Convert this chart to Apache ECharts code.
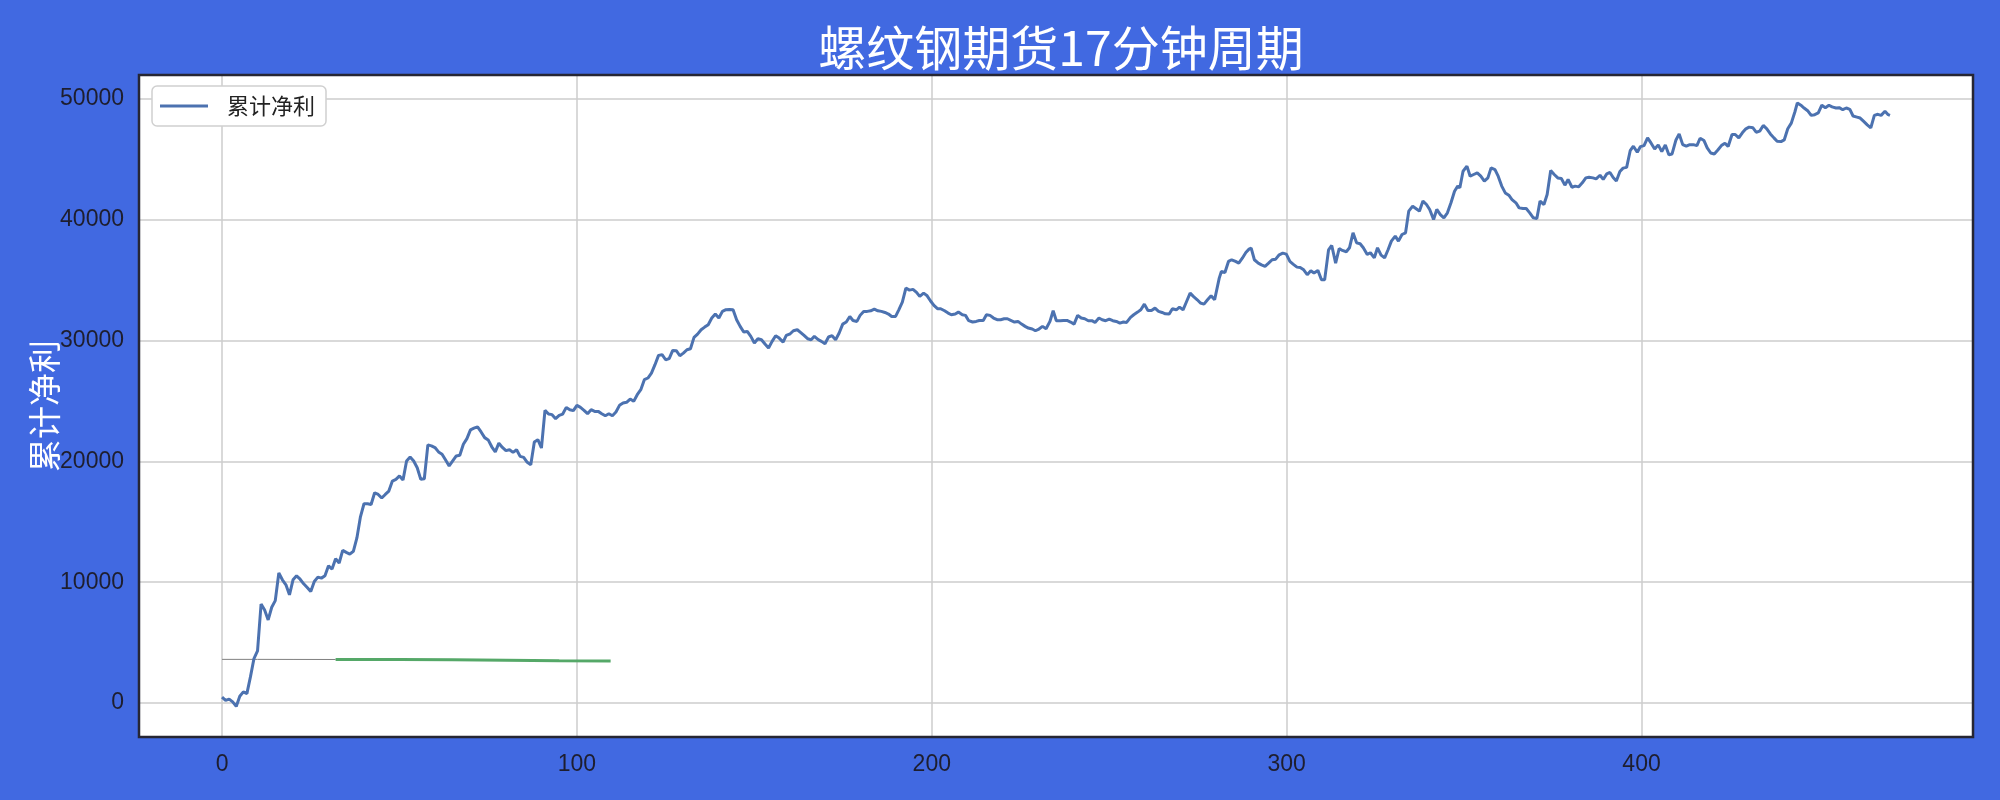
<!DOCTYPE html>
<html>
<head>
<meta charset="utf-8">
<script src="https://cdn.jsdelivr.net/npm/echarts@6/dist/echarts.min.js"></script>
<style>
html,body{margin:0;padding:0;background:#4169E1;}
#chart{width:2000px;height:800px;}
</style>
</head>
<body>
<div id="chart"></div>
<script>
const titleText = '螺纹钢期货17分钟周期';
const seriesName = '累计净利';
const yAxisName = '累计净利';

const netX = [
0,1,2,3,4,5,6,7,8,9,10,11,12,13,14,15,16,17,18,19,20,21,22,23,24,25,26,27,28,29,
30,31,32,33,34,35,36,37,38,39,40,41,42,43,44,45,46,47,48,49,50,51,52,53,54,55,56,57,58,59,
60,61,62,63,64,65,66,67,68,69,70,71,72,73,74,75,76,77,78,79,80,81,82,83,84,85,86,87,88,89,
90,91,92,93,94,95,96,97,98,99,100,101,102,103,104,105,106,107,108,109,110,111,112,113,114,115,116,117,118,119,
120,121,122,123,124,125,126,127,128,129,130,131,132,133,134,135,136,137,138,139,140,141,142,143,144,145,146,147,148,149,
150,151,152,153,154,155,156,157,
158.1,159.0,160.1,161.0,162.1,163.0,164.0,165.0,166.0,166.9,168.0,168.9,169.9,170.9,171.9,172.9,173.9,174.9,175.9,176.9,
177.8,178.9,179.8,180.8,181.8,182.8,183.8,184.8,185.8,186.8,187.8,188.7,189.8,190.7,191.7,192.7,193.7,194.7,195.7,196.6,
197.7,198.6,199.6,200.6,201.6,202.5,203.6,204.6,205.5,206.6,207.5,208.6,209.5,210.4,211.5,212.5,213.4,214.5,215.4,216.4,
217.4,218.4,219.4,220.4,221.3,222.4,223.3,224.3,225.3,226.3,227.2,228.3,229.2,230.2,231.2,232.2,
233.3,234.2,235.1,236.2,237.1,238.1,239.1,240.1,241.1,242.1,243.1,244.1,245.1,246.0,247.1,248.0,249.0,250.0,251.0,252.0,
253.0,254.0,254.9,256.0,256.9,258.0,258.9,259.9,260.9,261.9,262.9,263.9,264.9,265.8,266.9,267.8,268.9,269.8,270.8,271.8,
272.8,273.7,274.8,275.7,276.7,277.7,278.7,279.7,280.1,281.0,281.6,282.6,283.6,284.5,285.6,286.5,287.5,288.5,289.4,290.0,
290.9,292.0,292.9,293.9,294.9,295.9,296.9,297.9,298.9,299.9,300.9,301.8,302.9,303.8,304.8,305.8,306.8,307.7,308.8,309.8,
310.7,311.8,312.7,313.8,
314.8,315.7,316.8,317.7,318.7,319.7,320.7,321.6,322.7,323.6,324.7,325.6,326.6,327.6,328.6,329.5,330.6,331.5,332.5,333.5,
334.4,335.5,336.4,337.4,338.4,339.4,340.3,341.4,342.3,343.3,344.3,345.3,346.3,347.3,348.2,348.8,349.7,350.8,351.7,352.7,
353.7,354.7,355.7,356.7,357.6,358.7,359.6,360.6,361.6,362.6,363.5,364.6,365.5,366.6,367.5,368.5,369.5,370.5,371.4,372.5,
373.4,374.4,375.4,376.4,377.4,378.4,379.3,380.4,381.3,382.3,383.3,384.3,385.2,386.3,387.2,388.3,389.2,390.2,
391.1,392.0,392.9,393.9,394.8,395.8,396.8,397.7,398.8,399.7,400.7,401.7,402.7,403.7,404.7,405.7,406.7,407.7,408.6,409.7,
410.6,411.6,412.6,413.6,414.6,415.6,416.5,417.6,418.5,419.5,420.5,421.5,422.5,423.5,424.4,425.5,426.4,427.4,428.4,429.4,
430.3,431.4,432.3,433.3,434.3,435.3,436.3,437.3,438.2,439.3,440.2,441.2,442.2,443.2,443.9,444.9,445.8,446.9,447.8,448.8,
449.8,450.8,451.8,452.8,453.7,454.8,455.7,456.7,457.7,458.7,459.6,460.7,461.6,462.6,463.6,464.6,465.6,466.6,467.5,468.6,
469.5,470.0
];

const netY = [
500,230,330,100,-270,570,930,790,2170,3690,4330,8200,7700,6880,7930,8480,10760,10200,9790,8960,
10200,10530,10250,9870,9560,9230,10060,10420,10340,10530,11360,11090,11950,11590,12640,12470,12330,12560,13660,15410,
16490,16490,16430,17400,17260,16960,17260,17540,18370,18510,18790,18450,20030,20360,20030,19470,18510,18560,21360,21280,
21140,20780,20590,20110,19620,20030,20440,20500,21410,21880,22600,22740,22850,22430,21960,21770,21200,20780,21500,21150,
20880,20960,20740,20960,20410,20330,19920,19720,21600,21790,21100,24220,23910,23860,23530,23800,23910,24460,24270,24190,
24630,24460,24220,23940,24270,24130,24130,23940,23770,23940,23770,24080,24630,24820,24880,25150,24960,25510,25920,26750,
26890,27300,27990,28760,28820,28400,28490,29170,29150,28730,28950,29230,29310,30250,30520,30880,31100,31300,31850,32180,
31850,32400,32540,32560,32540,31710,31160,30690,30740,30330,29780,30140,30060,29700,29370,29920,30390,30190,
29860,30410,30550,30800,30880,30660,30410,30140,30060,30330,30060,29920,29720,30280,30390,30060,30610,31350,31520,31980,
31650,31570,32070,32400,32400,32450,32590,32450,32400,32310,32180,31980,31980,32530,33170,34330,34160,34220,33970,33640,
33910,33720,33280,32890,32620,32620,32450,32260,32120,32180,32340,32120,32070,31630,31520,31570,31650,31650,32120,32070,
31850,31710,31710,31790,31790,31630,31520,31570,31350,31160,31020,30940,30800,30940,31160,30960,
31570,32450,31630,31630,31650,31650,31520,31350,32070,31850,31790,31630,31630,31490,31850,31710,31630,31760,31630,31570,
31430,31520,31490,31900,32120,32340,32530,33000,32480,32480,32670,32400,32310,32200,32180,32620,32530,32750,32530,33220,
33910,33640,33360,33090,33000,33360,33690,33360,33220,35150,35700,35620,36530,36670,36530,36390,36800,37270,37550,37630,
36670,36390,36250,36120,36390,36670,36720,37080,37220,37140,36530,36310,36060,36030,35840,35430,35760,35570,35790,35010,
35010,37490,37850,36390,
37600,37440,37330,37660,38900,38070,37990,37660,37110,37250,36830,37660,37050,36830,37520,38210,38620,38210,38760,38900,
40690,41100,40910,40690,41520,41240,40830,40000,40830,40410,40140,40550,41380,42340,42760,42620,43990,44410,43580,43720,
43860,43580,43170,43440,44270,44130,43580,42760,42200,42010,41650,41380,40960,40910,40910,40550,40140,40080,41520,41240,
42070,44050,43720,43440,43390,42840,43310,42670,42760,42700,43030,43440,43500,43440,43360,43660,43310,43770,
43890,43470,43190,43970,44250,44310,45690,46060,45560,46030,46110,46750,46310,45830,46170,45610,46170,45360,45420,46580,
47080,46190,46060,46190,46190,46110,46720,46530,45920,45500,45420,45750,46110,46310,46030,47030,47030,46750,47170,47500,
47640,47580,47220,47310,47780,47500,47080,46750,46470,46440,46580,47500,47970,48890,49640,49450,49220,48970,48610,48670,
48810,49450,49250,49450,49310,49220,49250,49080,49220,49110,48560,48470,48390,48110,47830,47580,48610,48700,48610,48950,
48670,48610
];

const grayX = [0, 10, 20, 32];
const grayY = [3620, 3620, 3615, 3610];
const greenX = [32, 50, 65, 80, 95, 109.5];
const greenY = [3600, 3600, 3580, 3550, 3500, 3480];

const pairs = (xs, ys) => xs.map((x, i) => [x, ys[i]]);

const chart = echarts.init(document.getElementById('chart'), null, {renderer: 'canvas'});
const tickFont = {fontFamily: '"Liberation Sans Narrow", "Liberation Sans", sans-serif', fontSize: 23, color: '#1e1e2e'};
const plainNum = v => String(v);

const gridLeft = 139, gridRight = 27, gridTop = 75, gridBottom = 63;

chart.setOption({
  backgroundColor: '#4169E1',
  animation: false,
  title: {
    text: titleText,
    left: 1056,
    top: 19,
    textAlign: 'center',
    textStyle: {color: '#ffffff', fontSize: 48, fontWeight: 'normal', fontFamily: '"Noto Sans CJK SC", sans-serif'}
  },
  legend: {
    data: [{name: seriesName, icon: 'rect'}],
    left: 152,
    top: 86,
    padding: [9, 11, 9, 8],
    itemWidth: 48,
    itemHeight: 3,
    backgroundColor: '#ffffff',
    borderColor: '#d0d0d0',
    borderWidth: 1.5,
    borderRadius: 5,
    textStyle: {fontSize: 22, color: '#222222', fontFamily: '"Noto Sans CJK SC", sans-serif', padding: [0, 0, 0, 14]}
  },
  grid: {
    left: gridLeft, right: gridRight, top: gridTop, bottom: gridBottom,
    show: true,
    backgroundColor: '#ffffff',
    borderColor: '#262633',
    borderWidth: 0
  },
  graphic: [{
    type: 'rect',
    z: 100,
    silent: true,
    shape: {x: gridLeft, y: gridTop, width: 2000 - gridLeft - gridRight, height: 800 - gridTop - gridBottom},
    style: {fill: 'none', stroke: '#262633', lineWidth: 2.5}
  }],
  xAxis: {
    type: 'value',
    min: -23.4,
    max: 493.4,
    axisLine: {show: false},
    axisTick: {show: false},
    splitLine: {show: true, lineStyle: {color: '#cccccc', width: 1.5}},
    axisLabel: Object.assign({margin: 16, showMinLabel: false, showMaxLabel: false, formatter: plainNum}, tickFont)
  },
  yAxis: {
    type: 'value',
    min: -2800,
    max: 51950,
    name: yAxisName,
    nameLocation: 'middle',
    nameRotate: 90,
    nameGap: 78,
    nameMoveOverlap: false,
    nameTextStyle: {color: '#ffffff', fontSize: 33, fontFamily: '"Noto Sans CJK SC", sans-serif'},
    axisLine: {show: false},
    axisTick: {show: false},
    splitLine: {show: true, lineStyle: {color: '#cccccc', width: 1.5}},
    axisLabel: Object.assign({margin: 15, showMinLabel: false, showMaxLabel: false, formatter: plainNum}, tickFont)
  },
  series: [
    {
      name: 'gray', type: 'line', symbol: 'none', silent: true,
      data: pairs(grayX, grayY),
      lineStyle: {color: '#808080', width: 1}
    },
    {
      name: 'green', type: 'line', symbol: 'none', silent: true,
      data: pairs(greenX, greenY),
      lineStyle: {color: '#55A868', width: 3}
    },
    {
      name: seriesName, type: 'line', symbol: 'none', showSymbol: false,
      data: pairs(netX, netY),
      lineStyle: {color: '#4C72B0', width: 3},
      itemStyle: {color: '#4C72B0'}
    }
  ]
});
</script>
</body>
</html>
